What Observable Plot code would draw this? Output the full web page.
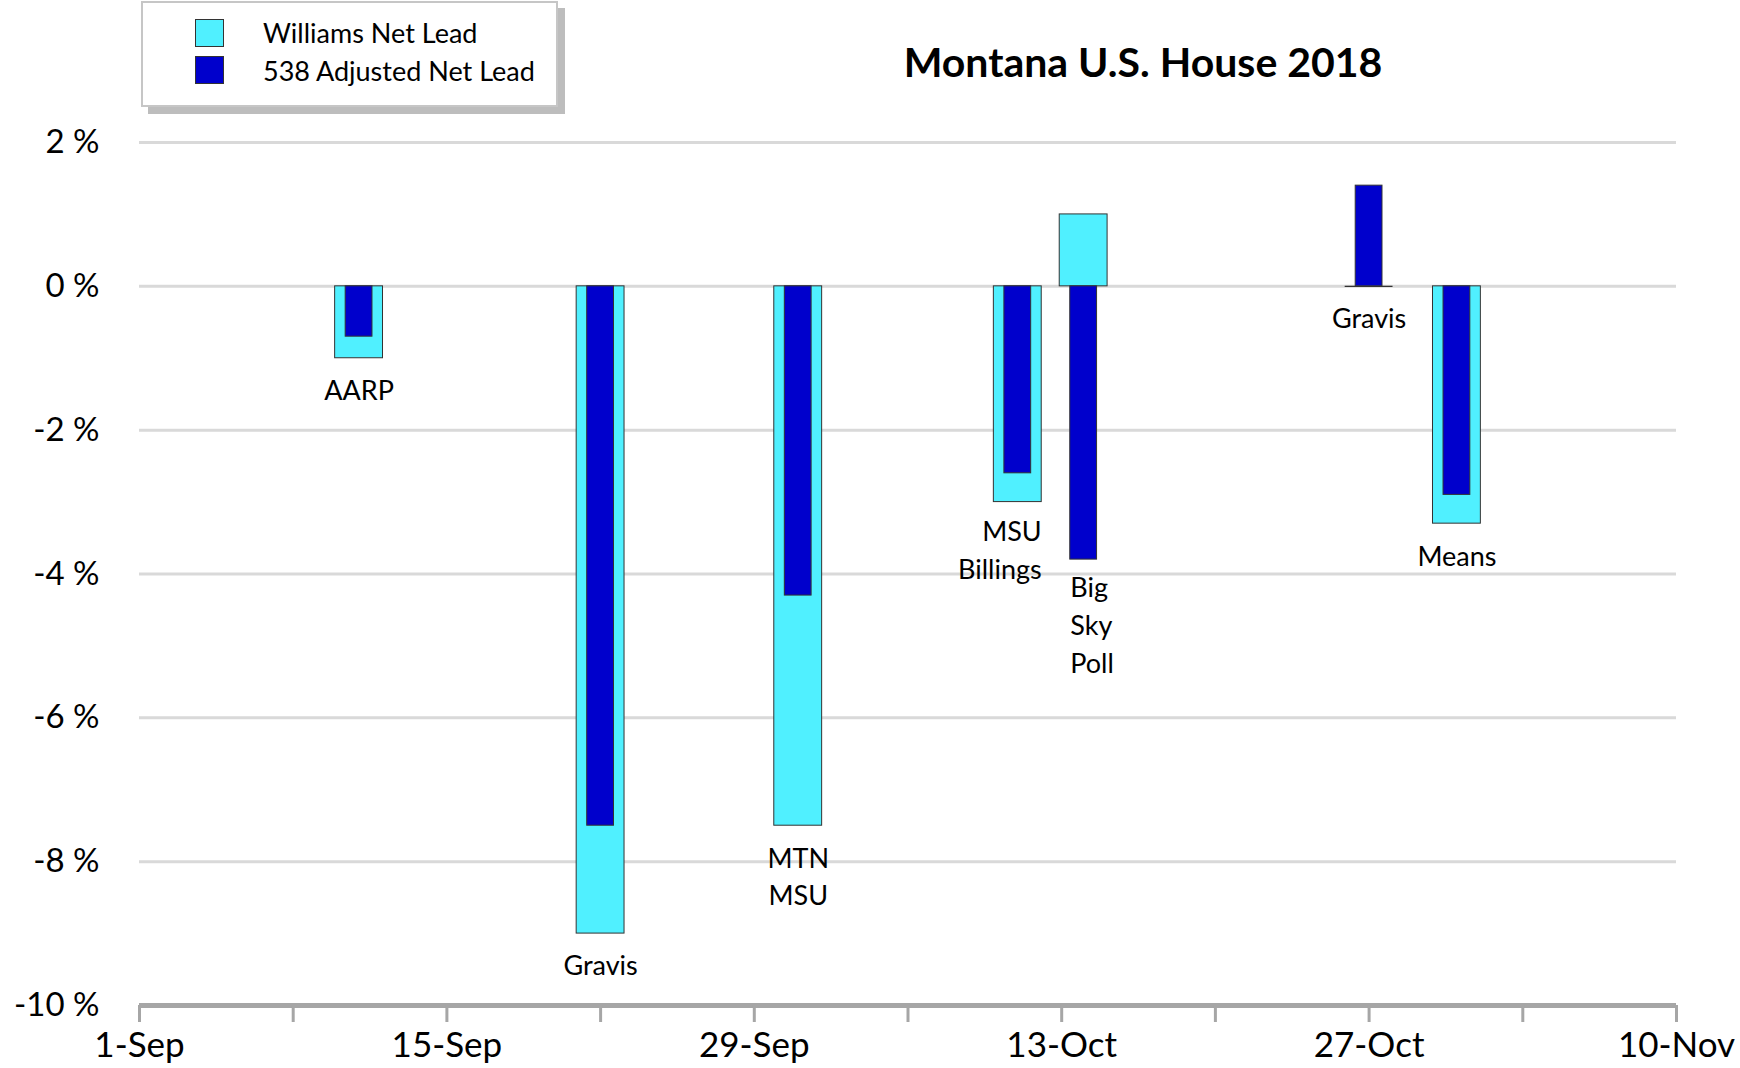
<!DOCTYPE html>
<html>
<head>
<meta charset="utf-8">
<script src="https://cdn.jsdelivr.net/npm/d3@7"></script>
<script src="https://cdn.jsdelivr.net/npm/@observablehq/plot@0.6"></script>
<style>
  body { margin: 0; background: #fff; font-family: Lato, "Open Sans", sans-serif; color: #000; }
  #header { position: relative; width: 1740px; height: 120px; }
  #legend { position: absolute; left: 141px; top: 1px; width: 417px; height: 106px; box-sizing: border-box;
            border: 2px solid #c6c6c6; background: #fff; box-shadow: 7px 7px 0 #bdbdbd; }
  .sw { position: absolute; left: 52px; width: 29px; height: 28px; box-sizing: border-box; border: 1px solid #333; }
  .lt { position: absolute; left: 120px; font-size: 27px; line-height: 30px; white-space: nowrap; }
  #title { position: absolute; left: 843px; width: 600px; top: 38px; text-align: center; font-size: 41px;
           font-weight: bold; line-height: 48px; }
</style>
</head>
<body>
<div id="header"></div>
<div id="chart"></div>
<script>
// ---- data ----
const title = "Montana U.S. House 2018";
const seriesNames = ["Williams Net Lead", "538 Adjusted Net Lead"];
const seriesColors = ["#50F0FF", "#0000CC"];
const pollDates = ["2018-09-11", "2018-09-22", "2018-10-01", "2018-10-11", "2018-10-14", "2018-10-27", "2018-10-31"];
const pollsters = ["AARP", "Gravis", "MTN\nMSU", "MSU\nBillings", "Big\nSky\nPoll", "Gravis", "Means"];
const williamsLead = [-1.0, -9.0, -7.5, -3.0, 1.0, 0.0, -3.3];
const adjustedLead = [-0.7, -7.5, -4.3, -2.6, -3.8, 1.4, -2.9];
const yTicks = [2, 0, -2, -4, -6, -8, -10];
const xTickDates = ["2018-09-01", "2018-09-08", "2018-09-15", "2018-09-22", "2018-09-29", "2018-10-06",
                    "2018-10-13", "2018-10-20", "2018-10-27", "2018-11-03", "2018-11-10"];
const xTickLabels = ["1-Sep", "", "15-Sep", "", "29-Sep", "", "13-Oct", "", "27-Oct", "", "10-Nov"];

// ---- header: legend + title ----
const header = document.getElementById("header");
const legend = document.createElement("div");
legend.id = "legend";
seriesNames.forEach((name, i) => {
  const sw = document.createElement("div");
  sw.className = "sw";
  sw.style.top = (16 + i * 37) + "px";
  sw.style.background = seriesColors[i];
  legend.appendChild(sw);
  const t = document.createElement("div");
  t.className = "lt";
  t.style.top = (15 + i * 38) + "px";
  t.textContent = name;
  legend.appendChild(t);
});
header.appendChild(legend);
const tt = document.createElement("div");
tt.id = "title";
tt.textContent = title;
header.appendChild(tt);

// ---- chart ----
const DAY = 864e5;
const rows = pollDates.map((d, i) => ({
  date: new Date(d), pollster: pollsters[i], williams: williamsLead[i], adjusted: adjustedLead[i]
}));
const lightHalf = 1.09 * DAY, darkHalf = 0.61 * DAY;
const shift = (d, ms) => new Date(+d + ms);
const labelY = d => Math.min(0, d.williams, d.adjusted);
const tickDates = xTickDates.map(d => new Date(d));
const labelDates = tickDates.filter((d, i) => xTickLabels[i] !== "");
const labelMap = new Map(tickDates.map((d, i) => [+d, xTickLabels[i]]));

const chart = Plot.plot({
  width: 1740,
  height: 948,
  marginTop: 22,
  marginBottom: 63,
  marginLeft: 139,
  marginRight: 64,
  style: { fontFamily: "Lato, 'Open Sans', sans-serif", fontSize: "27px", color: "#000", background: "#fff" },
  x: { type: "utc", domain: [new Date("2018-09-01"), new Date("2018-11-10")] },
  y: { domain: [-10, 2] },
  marks: [
    Plot.ruleY(yTicks.filter(v => v !== -10), { stroke: "#d9d9d9", strokeWidth: 3 }),
    Plot.rect(rows.filter(d => d.williams !== 0), {
      x1: d => shift(d.date, -lightHalf), x2: d => shift(d.date, lightHalf),
      y1: 0, y2: "williams", fill: seriesColors[0], stroke: "#333", strokeWidth: 1
    }),
    Plot.ruleY(rows.filter(d => d.williams === 0), {
      y: "williams", x1: d => shift(d.date, -lightHalf), x2: d => shift(d.date, lightHalf),
      stroke: "#333", strokeWidth: 1.3
    }),
    Plot.rect(rows, {
      x1: d => shift(d.date, -darkHalf), x2: d => shift(d.date, darkHalf),
      y1: 0, y2: "adjusted", fill: seriesColors[1], stroke: "#333", strokeWidth: 1
    }),
    Plot.text(rows.filter(d => !d.pollster.startsWith("MSU") && !d.pollster.startsWith("Big")), {
      x: "date", y: labelY, text: "pollster", lineAnchor: "top", dy: 15, fontSize: 27, lineHeight: 1.4
    }),
    Plot.text(rows.filter(d => d.pollster.startsWith("MSU")), {
      x: d => shift(d.date, lightHalf), y: labelY, text: "pollster", textAnchor: "end",
      lineAnchor: "top", dy: 12, fontSize: 27, lineHeight: 1.4
    }),
    Plot.text(rows.filter(d => d.pollster.startsWith("Big")), {
      x: d => shift(d.date, -darkHalf), y: labelY, text: "pollster", textAnchor: "start",
      lineAnchor: "top", dy: 11, fontSize: 27, lineHeight: 1.4
    }),
    Plot.ruleY([-10], { stroke: "#a6a6a6", strokeWidth: 5 }),
    Plot.axisX(tickDates, { tickSize: 17, stroke: "#a6a6a6", strokeWidth: 3, tickFormat: () => "", label: null }),
    Plot.axisX(labelDates, { tickSize: 0, tickPadding: 27, fontSize: 35, tickFormat: d => labelMap.get(+d), label: null }),
    Plot.axisY(yTicks, { tickSize: 0, tickPadding: 40, fontSize: 33, tickFormat: d => `${d} %`, label: null })
  ]
});
document.getElementById("chart").appendChild(chart);
</script>
</body>
</html>
